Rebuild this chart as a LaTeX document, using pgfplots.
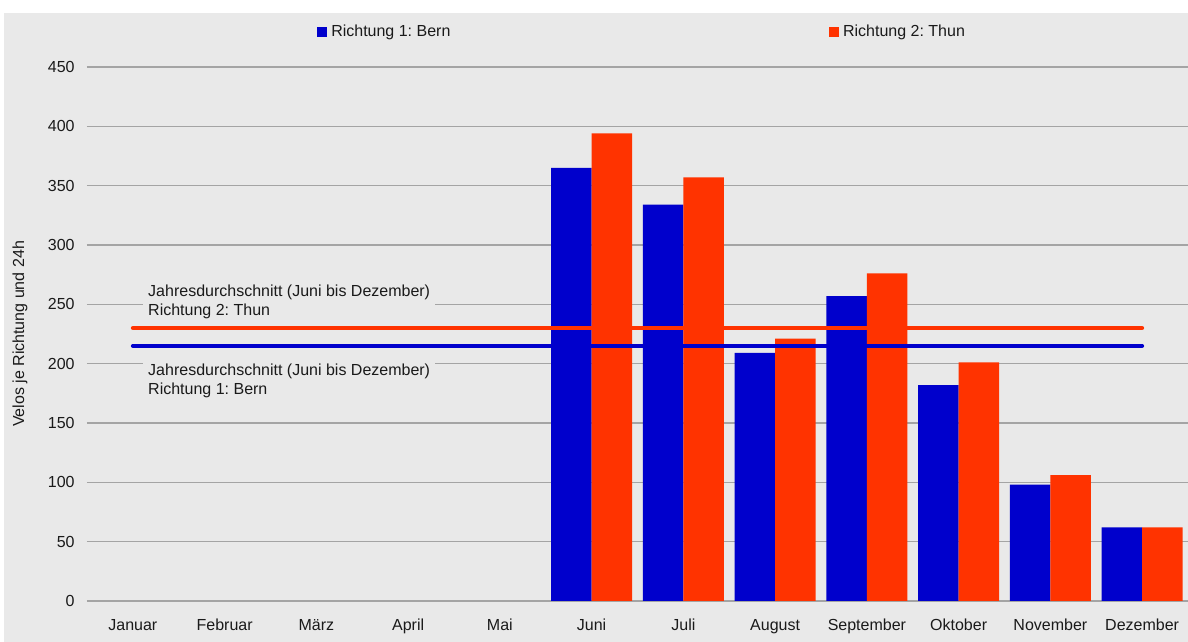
\documentclass[border=0pt]{standalone}
\usepackage{pgfplots}
\pgfplotsset{compat=1.18}
\usepackage{fontspec}
\setmainfont{Liberation Sans}
\frenchspacing
\definecolor{bg}{HTML}{E9E9E9}
\definecolor{gridc}{HTML}{A4A4A4}
\definecolor{bblue}{HTML}{0000CC}
\definecolor{rred}{HTML}{FF3300}
\definecolor{txt}{HTML}{1A1A1A}
\begin{document}
\begin{tikzpicture}[font=\fontsize{12}{14.5}\selectfont, text=txt]
\path[use as bounding box] (0,0) rectangle (891pt,481.5pt);
\fill[white] (0,0) rectangle (891pt,481.5pt);
\fill[bg] (3pt,0) rectangle (891pt,471.75pt);
\begin{axis}[
  at={(65.25pt,30.75pt)}, anchor=south west,
  scale only axis, width=825.75pt, height=400.5pt,
  xmin=-0.5, xmax=11.5, ymin=0, ymax=450,
  ytick={0,50,...,450},
  xtick={0,...,11},
  xticklabels={Januar,Februar,März,April,Mai,Juni,Juli,August,September,Oktober,November,Dezember},
  axis line style={draw=none},
  major tick length=0pt,
  ymajorgrids, grid style={color=gridc, line width=0.8pt},
  /pgf/number format/assume math mode=true,
  ticklabel style={font=\fontsize{12}{14.5}\selectfont, text=txt},
  xticklabel style={yshift=-9.5pt, text height=9pt, text depth=2.5pt},
  yticklabel style={xshift=-5.75pt},
  ylabel={Velos je Richtung und 24h},
  every axis y label/.style={at={(axis description cs:-0.0609,0.5)}, rotate=90, anchor=center, font=\fontsize{12}{14.5}\selectfont, text=txt},
  legend columns=2,
  legend style={at={(axis description cs:0.2089,1.0656)}, anchor=west, draw=none, fill=none, inner sep=0pt,
    nodes={inner sep=0pt}, font=\fontsize{12}{14.5}\selectfont, text=txt,
    /tikz/every odd column/.append style={column sep=3pt},
    /tikz/every even column/.append style={column sep=284pt}},
  legend image code/.code={\fill[#1] (0pt,-3.75pt) rectangle (7.5pt,3.75pt);},
]
\addplot[ybar, bar width=30.3pt, bar shift=-15.15pt, fill=bblue, draw=none] coordinates {
(5,365) (6,334) (7,209) (8,257) (9,182) (10,98) (11,62)};
\addlegendentry{Richtung 1: Bern}
\addplot[ybar, bar width=30.3pt, bar shift=15.15pt, fill=rred, draw=none] coordinates {
(5,394) (6,357) (7,221) (8,276) (9,201) (10,106) (11,62)};
\addlegendentry{Richtung 2: Thun}
\addplot[sharp plot, no marks, rred, line width=3pt, line cap=round, forget plot] coordinates {(0,230) (11,230)};
\addplot[sharp plot, no marks, bblue, line width=3pt, line cap=round, forget plot] coordinates {(0,215) (11,215)};
\node[fill=bg, inner xsep=3.75pt, inner ysep=1pt, anchor=west, align=left, font=\fontsize{12}{14.25}\selectfont, text=txt] at (axis cs:0.11,252.1) {Jahresdurchschnitt (Juni bis Dezember)\\Richtung 2: Thun};
\node[fill=bg, inner xsep=3.75pt, inner ysep=1pt, anchor=west, align=left, font=\fontsize{12}{14.25}\selectfont, text=txt] at (axis cs:0.11,185.8) {Jahresdurchschnitt (Juni bis Dezember)\\Richtung 1: Bern};
\end{axis}
\end{tikzpicture}
\end{document}
